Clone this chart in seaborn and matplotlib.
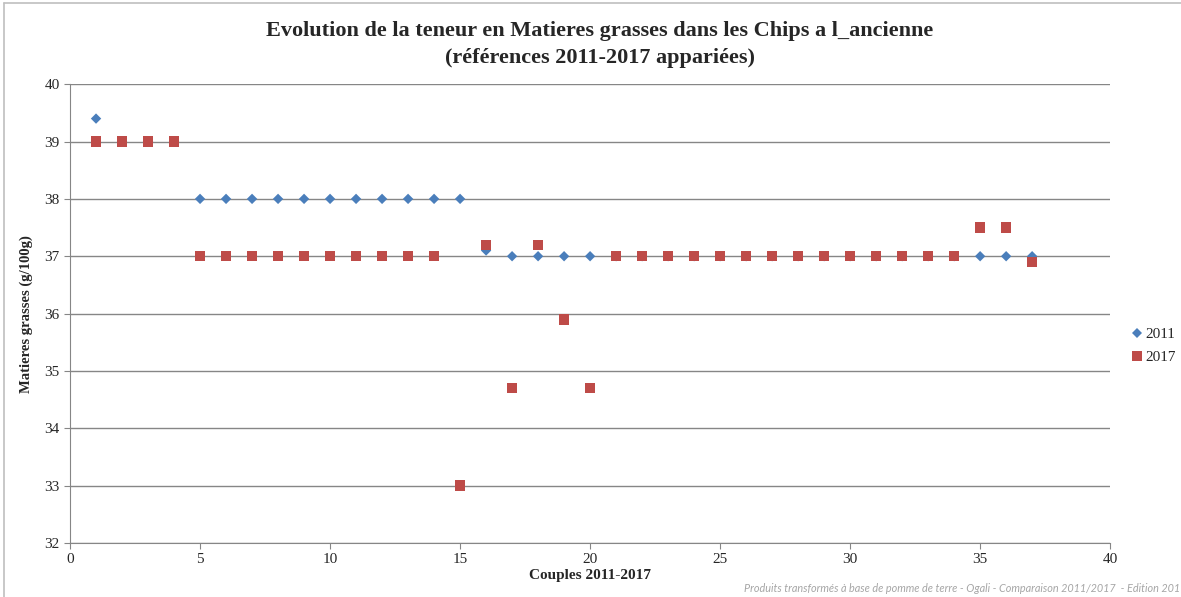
import numpy as np
import pandas as pd
import matplotlib
matplotlib.use('Agg')
from matplotlib import pyplot as plt
import seaborn as sns

# Couples 2011-2017
couples = list(range(1, 38))
mg_2011 = [39.4, 39, 39, 39, 38, 38, 38, 38, 38, 38, 38, 38, 38, 38, 38,
           37.1, 37, 37, 37, 37, 37, 37, 37, 37, 37, 37, 37, 37, 37, 37,
           37, 37, 37, 37, 37, 37, 37]
mg_2017 = [39, 39, 39, 39, 37, 37, 37, 37, 37, 37, 37, 37, 37, 37, 33,
           37.2, 34.7, 37.2, 35.9, 34.7, 37, 37, 37, 37, 37, 37, 37, 37, 37, 37,
           37, 37, 37, 37, 37.5, 37.5, 36.9]

df = pd.DataFrame({
    'Couple': couples * 2,
    'MG': mg_2011 + mg_2017,
    'Annee': ['2011'] * len(couples) + ['2017'] * len(couples),
})

sns.set_style('white')
plt.rcParams['font.family'] = ['Liberation Serif', 'DejaVu Serif']

fig = plt.figure(figsize=(11.81, 5.97), dpi=100)
ax = fig.add_axes([0.0593, 0.0905, 0.8807, 0.7685])

sns.scatterplot(data=df, x='Couple', y='MG', hue='Annee', style='Annee',
                size='Annee', sizes={'2011': 28, '2017': 56},
                markers={'2011': 'D', '2017': 's'},
                palette={'2011': '#4a7ebb', '2017': '#be4b48'},
                linewidth=0, ax=ax, zorder=3)

ax.set_xlim(0, 40)
ax.set_ylim(32, 40)
ax.set_xticks(range(0, 41, 5))
ax.set_yticks(range(32, 41))
ax.yaxis.grid(True, color='#868686', linewidth=1)
ax.xaxis.grid(False)
for side in ['top', 'right']:
    ax.spines[side].set_visible(False)
for side in ['left', 'bottom']:
    ax.spines[side].set_color('#868686')
ax.tick_params(axis='both', direction='out', length=4, color='#868686',
               labelsize=11, left=True, bottom=True)
ax.set_xlabel('Couples 2011-2017', fontsize=11, fontweight='bold', labelpad=2)
ax.set_ylabel('Matieres grasses (g/100g)', fontsize=10.5, fontweight='bold', labelpad=8)

fig.suptitle('Evolution de la teneur en Matieres grasses dans les Chips a l_ancienne\n'
             '(références 2011-2017 appariées)',
             fontsize=16, fontweight='bold', y=0.965, x=0.508, linespacing=1.45)

ax.legend(loc='center left', bbox_to_anchor=(1.018, 0.43), frameon=False,
          fontsize=11, handletextpad=0.0, handlelength=1.1, labelspacing=0.6,
          borderaxespad=0, borderpad=0)

fig.text(0.999, 0.005, 'Produits transformés à base de pomme de terre - Ogali - '
         'Comparaison 2011/2017  - Edition 201', fontsize=7.8, style='italic',
         family=['Lato', 'DejaVu Sans'],
         color='#a6a6a6', ha='right', va='bottom')

# chart border
fig.add_artist(plt.Line2D([0.003, 0.003], [0, 0.995], color='#bfbfbf', lw=1.2,
                          transform=fig.transFigure))
fig.add_artist(plt.Line2D([0.003, 1], [0.995, 0.995], color='#bfbfbf', lw=1.2,
                          transform=fig.transFigure))

fig.savefig('out.png', dpi=100)
